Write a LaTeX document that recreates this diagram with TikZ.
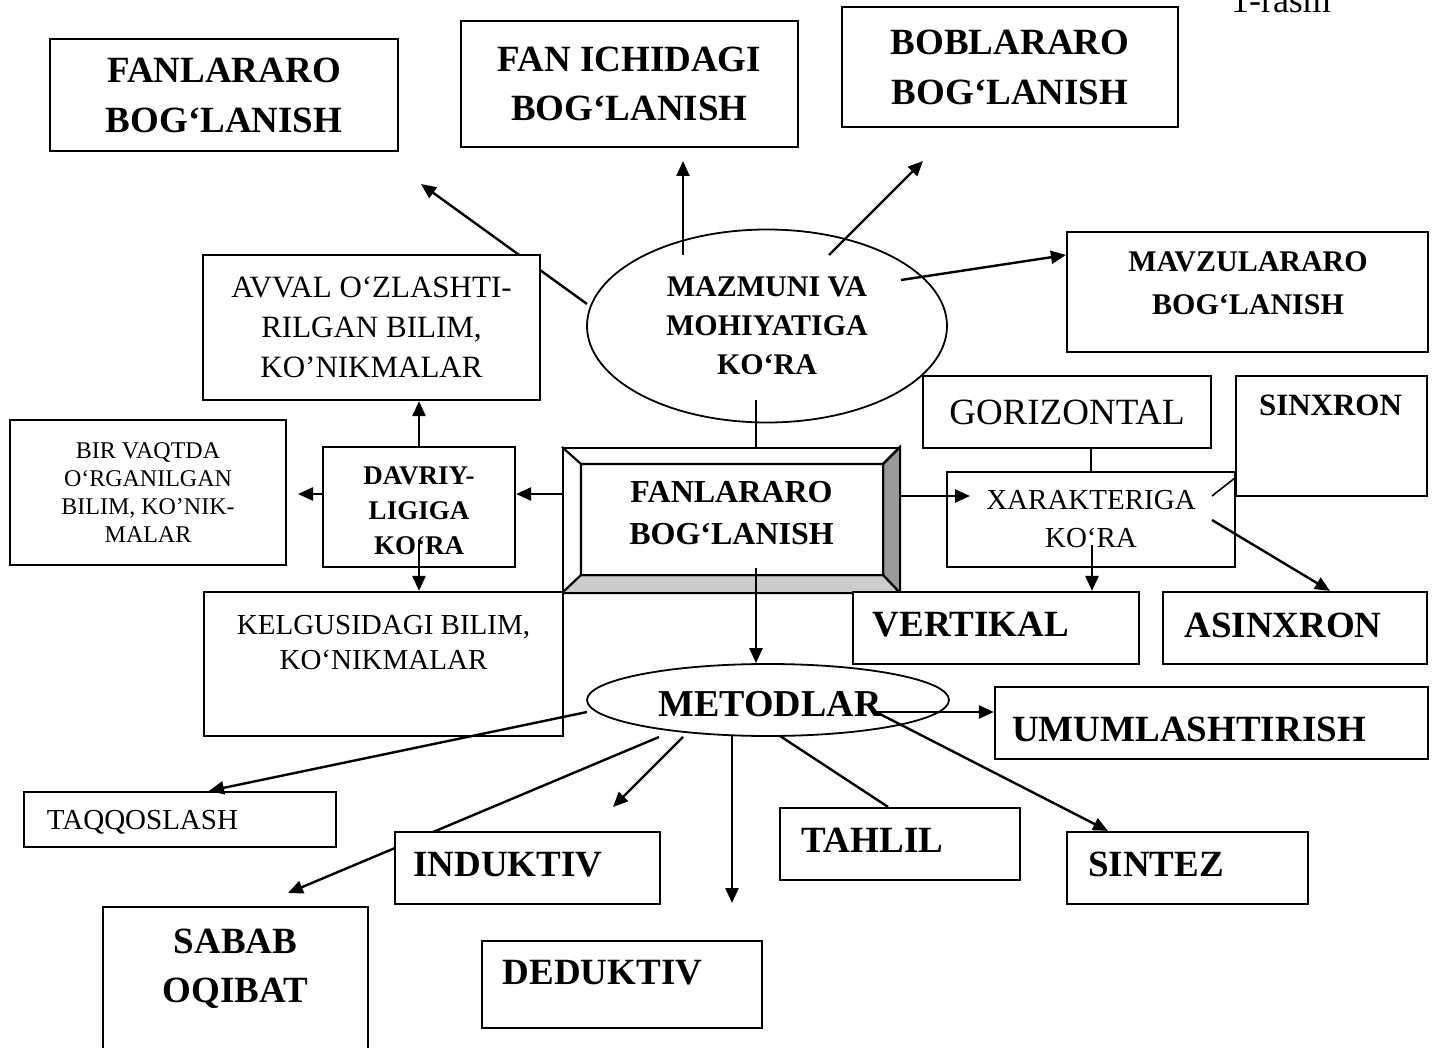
\documentclass[tikz,border=0pt]{standalone}
\usepackage{fontspec}
\setmainfont{Liberation Serif}
\usetikzlibrary{arrows.meta,shapes.geometric,calc}
\pgfdeclarelayer{bg}
\pgfsetlayers{bg,main}

\begin{document}
\begin{tikzpicture}[x=1pt, y=-1pt, >={Triangle[length=15pt,width=13pt]},
        box/.style = {draw, line width=2.2pt, fill=white, inner sep=0pt},
        oval/.style = {draw, ellipse, line width=1.8pt, inner sep=0pt, align=center},
        big/.style = {inner sep=0pt, align=center, font=\fontsize{37}{50}\selectfont\bfseries},
        lite/.style = {inner sep=0pt, align=center, font=\fontsize{29}{36}\selectfont},
        link/.style = {line width=2.4pt},
        hair/.style = {line width=1.6pt}]
        \clip (0,0) rectangle (1435,1048);

        \node[anchor=base, inner sep=0pt, font=\fontsize{36}{40}\selectfont] (rasm) at (1281,13) {1-rasm};
        \node[box, big, minimum width=348pt, minimum height=112pt] (ftop) at (224,95) {FANLARARO\\BOG‘LANISH};
        \node[box, big, font=\fontsize{37}{49}\selectfont\bfseries, minimum width=337pt, minimum height=126pt] (fanich) at (629.5,84) {FAN ICHIDAGI\\BOG‘LANISH};
        \node[box, big, minimum width=336pt, minimum height=120pt] (boblar) at (1010,67) {BOBLARARO\\BOG‘LANISH};
        \node[box, minimum width=361pt, minimum height=120pt] (mavzu) at (1247.5,292) {};
        \node[big, font=\fontsize{30}{43}\selectfont\bfseries] (mavzu-t) at (1248,283.5) {MAVZULARARO\\BOG‘LANISH};
        \node[oval, font=\fontsize{30}{39}\selectfont\bfseries, minimum width=360pt, minimum height=193pt] (mazm) at (767,326) {MAZMUNI VA\\MOHIYATIGA\\KO‘RA};
        \node[box, lite, font=\fontsize{31}{40}\selectfont, minimum width=337pt, minimum height=145pt] (avval) at (371.5,327.5) {AVVAL O‘ZLASHTI-\\RILGAN BILIM,\\KO’NIKMALAR};
        \node[box, lite, font=\fontsize{24}{28}\selectfont, minimum width=276pt, minimum height=145pt] (birv) at (148,492.5) {BIR VAQTDA\\O‘RGANILGAN\\BILIM, KO’NIK-\\MALAR};
        \node[box, minimum width=192pt, minimum height=120pt] (davr) at (419,507) {};
        \node[big, font=\fontsize{27}{35}\selectfont\bfseries] (davr-t) at (419,510.5) {DAVRIY-\\LIGIGA\\KO‘RA};

        \node[box, minimum width=336pt, minimum height=144pt] (bev) at (731,520) {};
        \coordinate (bev-a) at ($(bev.north west)+(19,17)$);
        \coordinate (bev-b) at ($(bev.north east)+(-17,17)$);
        \coordinate (bev-c) at ($(bev.south east)+(-17,-18)$);
        \coordinate (bev-d) at ($(bev.south west)+(19,-18)$);
        \filldraw[line width=2.2pt, fill=black!40] (bev.north east) -- (bev.south east) -- (bev-c) -- (bev-b) -- cycle;
        \filldraw[line width=2.2pt, fill=black!20] (bev.south west) -- (bev.south east) -- (bev-c) -- (bev-d) -- cycle;
        \draw[line width=2.2pt] (bev-a) rectangle (bev-c) (bev.north west) -- (bev-a) (bev.north east) -- (bev-b);
        \node[big, font=\fontsize{32}{42}\selectfont\bfseries] (bev-t) at (731.5,513.5) {FANLARARO\\BOG‘LANISH};

        \node[box, lite, font=\fontsize{37}{44}\selectfont, minimum width=288pt, minimum height=72pt] (goriz) at (1067,412) {GORIZONTAL};
        \node[box, minimum width=191pt, minimum height=120pt] (sinx) at (1331.5,436) {};
        \node[big, font=\fontsize{31}{36}\selectfont\bfseries] (sinx-t) at (1330.5,405) {SINXRON};
        \node[box, lite, font=\fontsize{29}{38}\selectfont, minimum width=288pt, minimum height=95pt] (xar) at (1091,519.5) {XARAKTERIGA\\KO‘RA};
        \node[box, minimum width=359pt, minimum height=144pt] (kelg) at (383.5,664) {};
        \node[lite, font=\fontsize{29}{35}\selectfont] (kelg-t) at (383.5,643) {KELGUSIDAGI BILIM,\\KO‘NIKMALAR};
        \node[box, minimum width=286pt, minimum height=72pt] (vert) at (996,628) {};
        \node[big] (vert-t) at (971,625) {VERTIKAL};
        \node[box, minimum width=264pt, minimum height=72pt] (asinx) at (1295,628) {};
        \node[big] (asinx-t) at (1283,625) {ASINXRON};

        \node[oval, minimum width=362pt, minimum height=72pt] (metod) at (768,700) {};
        \node[big, font=\fontsize{38}{44}\selectfont\bfseries] (metod-t) at (770,704.5) {METODLAR};
        \node[box, minimum width=433pt, minimum height=72pt] (umum) at (1211.5,723) {};
        \node[big] (umum-t) at (1189,729.5) {UMUMLASHTIRISH};
        \node[box, minimum width=312pt, minimum height=55pt] (taqq) at (180,819.5) {};
        \node[lite] (taqq-t) at (142.5,822) {TAQQOSLASH};
        \node[box, minimum width=265pt, minimum height=72pt] (induk) at (527.5,868) {};
        \node[big] (induk-t) at (508,864.5) {INDUKTIV};
        \node[box, minimum width=240pt, minimum height=72pt] (tahl) at (900,844) {};
        \node[big] (tahl-t) at (872.5,840.5) {TAHLIL};
        \node[box, minimum width=241pt, minimum height=72pt] (sint) at (1187.5,868) {};
        \node[big] (sint-t) at (1156,864.5) {SINTEZ};
        \node[box, minimum width=265pt, minimum height=163pt] (sabab) at (235.5,988.5) {};
        \node[big, font=\fontsize{37}{49}\selectfont\bfseries] (sabab-t) at (235.5,969) {SABAB\\OQIBAT};
        \node[box, minimum width=280pt, minimum height=87pt] (dedukt) at (622,984.5) {};
        \node[big] (dedukt-t) at (602.5,973) {DEDUKTIV};

        \coordinate (row) at (0,494);
        \coordinate (m1) at (587,304);
        \coordinate (m1e) at (421,184);
        \coordinate (m2) at (683,255);
        \coordinate (m2e) at (683,161);
        \coordinate (m3) at (829,255);
        \coordinate (m3e) at (923,161);
        \coordinate (m4) at (901,280);
        \coordinate (m5) at (756,400);
        \coordinate (d9) at (419,540);
        \coordinate (b10) at (756,568);
        \coordinate (x13) at (1212,496);
        \coordinate (x14) at (1092,545);
        \coordinate (x15) at (1212,520);
        \coordinate (t16) at (876,712);
        \coordinate (t18) at (780,736);
        \coordinate (t19) at (732,736);
        \coordinate (t19e) at (732,903);
        \coordinate (t20) at (587,712);
        \coordinate (t21) at (683,737);
        \coordinate (t21e) at (613,807);
        \coordinate (t22) at (659,737);
        \coordinate (t22e) at (288,893);

        \begin{pgfonlayer}{bg}
        \draw[->, link] (m1) to (m1e);
        \draw[->, link] (t22) to (t22e);
        \end{pgfonlayer}
        \draw[->, link] (m2) to (m2e);
        \draw[->, link] (m3) to (m3e);
        \draw[->, link] (m4) to (mavzu.west |- 0,255);
        \draw[hair] (m5) to (m5 |- bev.north);
        \draw[->, link] (bev.west |- row) to (davr.east |- row);
        \draw[->, link] (davr.west |- row) to (298,494);
        \draw[->, link] (davr.north -| d9) to (avval.south -| d9);
        \draw[->, link] (d9) to (d9 |- kelg.north);
        \draw[->, link] (b10) to (b10 |- metod.north);
        \draw[->, link] (bev.east |- x13) to (970,496);
        \draw[hair] (xar.north |- goriz.south) to (xar.north);
        \draw[hair] (x13) to (sinx.west |- 0,478);
        \draw[->, link] (x14) to (x14 |- vert.north);
        \draw[->, link] (x15) to (asinx.north -| 1330,0);
        \draw[->, link] (t16) to (umum.west |- t16);
        \draw[->, link] (t16) to (sint.north -| 1108,0);
        \draw[link] (t18) to (tahl.north -| 888,0);
        \draw[->, link] (t19) to (t19e);
        \draw[->, link] (t20) to (taqq.north -| 209,0);
        \draw[->, link] (t21) to (t21e);
\end{tikzpicture}
\end{document}
